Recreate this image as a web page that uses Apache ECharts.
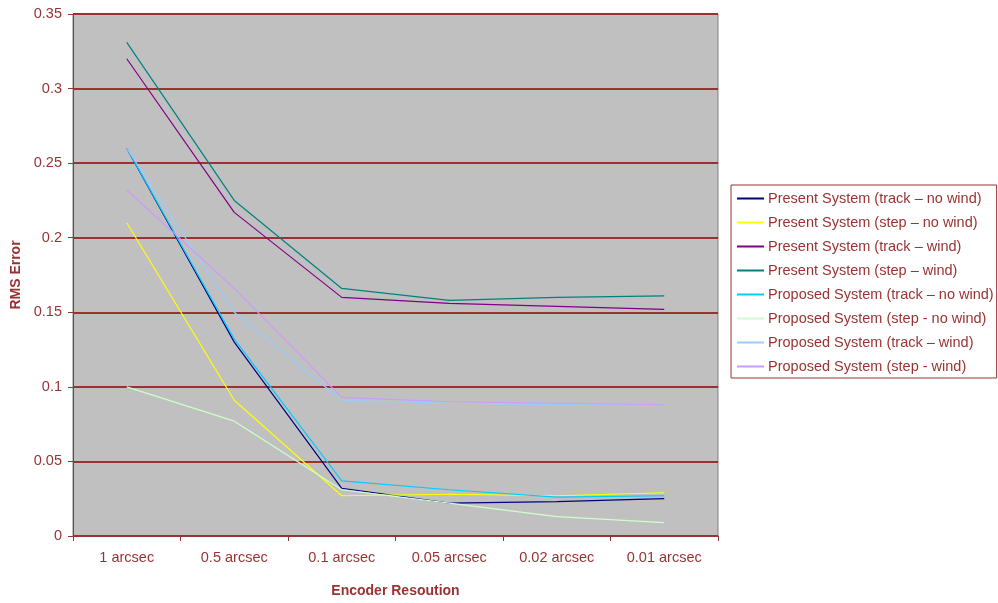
<!DOCTYPE html>
<html>
<head>
<meta charset="utf-8">
<script src="https://cdn.jsdelivr.net/npm/echarts@6/dist/echarts.min.js"></script>
<style>
  html, body { margin: 0; padding: 0; background: #fff; overflow: hidden; }
  #chart { width: 998px; height: 603px; }
</style>
</head>
<body>
<div id="chart"></div>
<script>
var categories = ['1 arcsec', '0.5 arcsec', '0.1 arcsec', '0.05 arcsec', '0.02 arcsec', '0.01 arcsec'];
var yTicks = [0, 0.05, 0.1, 0.15, 0.2, 0.25, 0.3, 0.35];

var presentTrackNoWind  = [0.260, 0.130, 0.032, 0.022, 0.023, 0.025];
var presentStepNoWind   = [0.210, 0.091, 0.027, 0.028, 0.027, 0.029];
var presentTrackWind    = [0.320, 0.217, 0.160, 0.156, 0.154, 0.152];
var presentStepWind     = [0.331, 0.225, 0.166, 0.158, 0.160, 0.161];
var proposedTrackNoWind = [0.260, 0.132, 0.037, 0.031, 0.026, 0.027];
var proposedStepNoWind  = [0.100, 0.077, 0.031, 0.022, 0.013, 0.009];
var proposedTrackWind   = [0.260, 0.150, 0.091, 0.089, 0.088, 0.088];
var proposedStepWind    = [0.232, 0.166, 0.093, 0.090, 0.089, 0.088];

var seriesNames = [
  'Present System (track \u2013 no wind)',
  'Present System (step \u2013 no wind)',
  'Present System (track \u2013 wind)',
  'Present System (step \u2013 wind)',
  'Proposed System (track \u2013 no wind)',
  'Proposed System (step - no wind)',
  'Proposed System (track \u2013 wind)',
  'Proposed System (step - wind)'
];
var seriesColors = ['#000080', '#ffff00', '#800080', '#008080', '#00ccff', '#ccffcc', '#99ccff', '#cc99ff'];
var seriesData = [presentTrackNoWind, presentStepNoWind, presentTrackWind, presentStepWind,
                  proposedTrackNoWind, proposedStepNoWind, proposedTrackWind, proposedStepWind];

var red = '#993333';
var font = '"Liberation Sans", Arial, sans-serif';

function initChart(){
  var myChart = echarts.init(document.getElementById('chart'));
  var series = [];
  for (var i = 0; i < seriesData.length; i++) {
    series.push({
      name: seriesNames[i],
      type: 'line',
      data: seriesData[i],
      symbol: 'none',
      color: seriesColors[i],
      lineStyle: { width: 1.2, color: seriesColors[i] }
    });
  }
  var option = {
    animation: false,
    textStyle: { fontFamily: font },
    grid: {
      left: 73, right: 280, top: 14, bottom: 58,
      show: true, backgroundColor: '#c0c0c0', borderColor: '#808080', borderWidth: 1
    },
    legend: {
      orient: 'vertical',
      left: 731, top: 185,
      backgroundColor: '#ffffff',
      borderColor: red, borderWidth: 1,
      padding: [6, 3, 4, 5],
      itemWidth: 27, itemHeight: 14, itemGap: 9,
      itemStyle: { opacity: 0 },
      textStyle: { color: red, fontSize: 14.5, lineHeight: 14, fontFamily: font, padding: [0, 0, 0, -1] },
      data: seriesNames
    },
    xAxis: {
      type: 'category',
      data: categories,
      boundaryGap: true,
      name: 'Encoder Resoution',
      nameLocation: 'middle',
      nameGap: 48,
      nameTextStyle: { color: red, fontSize: 14, fontWeight: 'bold', fontFamily: font },
      axisLine: { lineStyle: { color: red, width: 1 } },
      axisTick: { show: true, inside: false, length: 5, lineStyle: { color: red } },
      axisLabel: { color: red, fontSize: 14.5, margin: 14, fontFamily: font },
      splitLine: { show: false }
    },
    yAxis: {
      type: 'value',
      min: yTicks[0], max: yTicks[yTicks.length - 1], interval: 0.05,
      name: 'RMS Error',
      nameLocation: 'middle',
      nameGap: 45,
      nameTextStyle: { color: red, fontSize: 14, fontWeight: 'bold', fontFamily: font },
      axisLine: { show: true, lineStyle: { color: red, width: 1 } },
      axisTick: { show: true, inside: false, length: 5, lineStyle: { color: red } },
      axisLabel: {
        color: red, fontSize: 14.5, margin: 11, fontFamily: font,
        formatter: function(v){ return String(Math.round(v * 100) / 100); }
      },
      splitLine: { show: true, lineStyle: { color: '#993333', width: 2 } }
    },
    series: series
  };
  myChart.setOption(option);
}

initChart();
</script>
</body>
</html>
